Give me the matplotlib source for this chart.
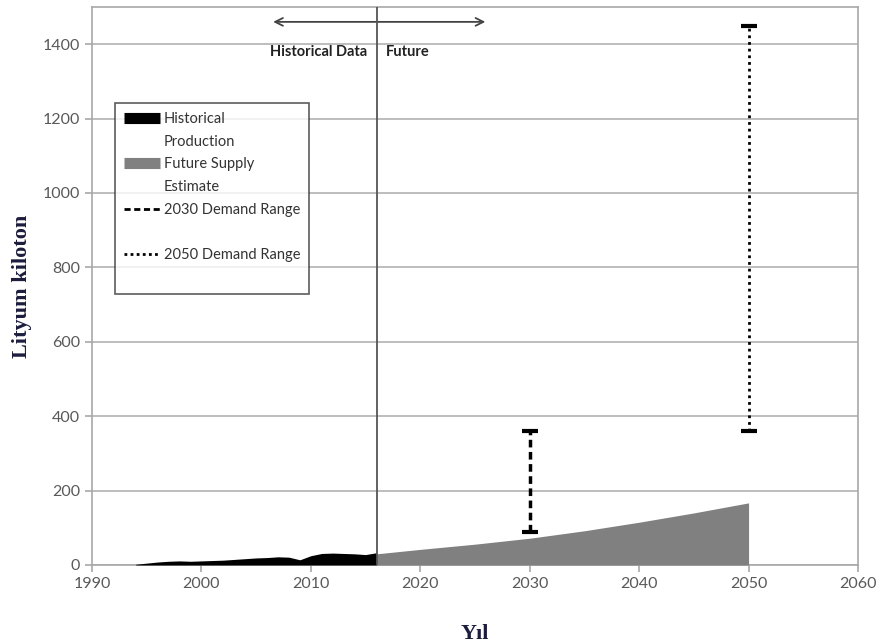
#!/usr/bin/env python3
"""Lithium supply vs demand ranges (historical + future estimate)"""

import numpy as np
import matplotlib
matplotlib.use('Agg')
import matplotlib.pyplot as plt
from matplotlib.lines import Line2D

# Historical production (kiloton)
hist_years = [1994, 1995, 1996, 1997, 1998, 1999, 2000, 2001, 2002, 2003, 2004,
              2005, 2006, 2007, 2008, 2009, 2010, 2011, 2012, 2013, 2014, 2015, 2016]
hist_values = [2, 5, 8, 10, 11, 10, 11, 12, 13, 15, 17,
               19, 20, 22, 21, 14, 25, 31, 32, 31, 30, 28, 33]

# Future supply estimate (kiloton)
future_years = [2016, 2020, 2025, 2030, 2035, 2040, 2045, 2050]
future_values = [30, 42, 56, 72, 92, 115, 140, 167]

# Demand ranges
demand_2030 = (2030, 90, 360)
demand_2050 = (2050, 360, 1450)

split_year = 2016

TICK_GRAY = '#595959'
GRID_GRAY = '#b8b8b8'
NAVY = '#1c1c3c'

fig = plt.figure(figsize=(8.8, 6.44), dpi=100)
ax = fig.add_axes([92 / 880, 79 / 644, 766 / 880, 558 / 644])

ax.set_xlim(1990, 2060)
ax.set_ylim(0, 1500)

# Grid
ax.set_yticks(np.arange(0, 1401, 200))
ax.set_xticks(np.arange(1990, 2061, 10))
ax.yaxis.grid(True, color=GRID_GRAY, linewidth=1.3)
ax.set_axisbelow(True)
for s in ax.spines.values():
    s.set_color('#a8a8a8')
    s.set_linewidth(1.2)

ax.tick_params(axis='both', colors='#a8a8a8', labelcolor=TICK_GRAY,
               labelsize=11.5, length=5, width=1.2)
for lbl in ax.get_xticklabels() + ax.get_yticklabels():
    lbl.set_fontfamily('Lato')

# Areas
ax.fill_between(hist_years, hist_values, 0, color='black', linewidth=0, zorder=3)
ax.fill_between(future_years, future_values, 0, color='#808080', linewidth=0, zorder=3)

# Demand ranges
yr, lo, hi = demand_2030
ax.plot([yr, yr], [lo, hi], color='black', linewidth=2.5, linestyle=(0, (2.2, 1.3)),
        marker='_', markersize=12, markeredgewidth=3, zorder=4)
yr, lo, hi = demand_2050
ax.plot([yr, yr], [lo, hi], color='black', linewidth=2, linestyle=(0, (1, 1.4)),
        marker='_', markersize=12, markeredgewidth=3, zorder=4)

# Historical / future split
ax.axvline(split_year, color='#555555', linewidth=1.3, zorder=5)
ax.annotate('', xy=(2006.3, 1460), xytext=(2026.2, 1460),
            arrowprops=dict(arrowstyle='<->', color='#444444', lw=1.3,
                            mutation_scale=14))
ax.text(split_year - 0.9, 1380, 'Historical Data', ha='right', va='center',
        fontsize=10.5, fontweight='bold', family='Lato', color='#222222')
ax.text(split_year + 0.9, 1380, 'Future', ha='left', va='center',
        fontsize=10.5, fontweight='bold', family='Lato', color='#222222')

# Axis labels
ax.set_xlabel('Yıl', family='Liberation Serif', fontweight='bold', fontsize=16,
              color=NAVY, labelpad=24)
ax.set_ylabel('Lityum kiloton', family='Liberation Serif', fontweight='bold',
              fontsize=16, color=NAVY, labelpad=8)

# Legend: one row per text line so that handles sit on the first line
blank = Line2D([], [], color='none')
handles = [
    Line2D([], [], color='black', linewidth=8, solid_capstyle='butt'), blank,
    Line2D([], [], color='#808080', linewidth=8, solid_capstyle='butt'), blank,
    Line2D([], [], color='black', linewidth=2, linestyle=(0, (2.2, 1.3))), blank,
    Line2D([], [], color='black', linewidth=2, linestyle=(0, (1, 1.2))), blank,
]
labels = ['Historical', 'Production', 'Future Supply', 'Estimate',
          '2030 Demand Range', ' ', '2050 Demand Range', ' ']
leg = ax.legend(handles, labels, loc='upper left',
                bbox_to_anchor=(115 / 880, 1 - 103 / 644),
                bbox_transform=fig.transFigure,
                prop={'family': 'Lato', 'size': 10.5}, labelcolor='#333333',
                frameon=True, fancybox=False, handlelength=2.5, handletextpad=0.25,
                labelspacing=0.6, borderpad=0.6, borderaxespad=0)
leg.get_frame().set_edgecolor('#333333')
leg.get_frame().set_linewidth(1.2)

plt.savefig('out.png', dpi=100)
